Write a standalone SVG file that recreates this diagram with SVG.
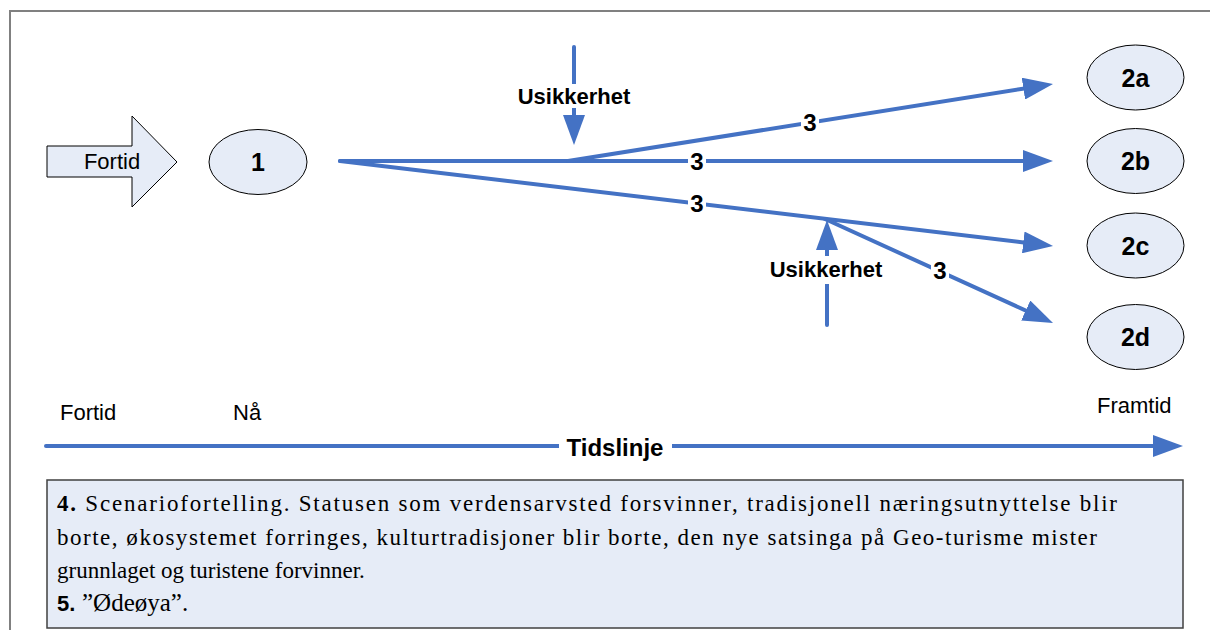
<svg xmlns="http://www.w3.org/2000/svg" width="1210" height="630" viewBox="0 0 1210 630">
  <defs>
    <marker id="ah" viewBox="0 0 30 22" markerWidth="30" markerHeight="22" refX="8" refY="11" orient="auto" markerUnits="userSpaceOnUse">
      <path d="M0,0 L30,11 L0,22 Z" fill="#4472C4"/>
    </marker>
    <style>
      .con { stroke: #4472C4; stroke-width: 4; fill: none; stroke-linecap: round; }
      .node { fill: #E6ECF7; stroke: #000; stroke-width: 1; }
      .lbl { font-family: "Liberation Sans", Arial, sans-serif; font-weight: bold; font-size: 24px; fill: #000; text-anchor: middle; }
      .nlbl { font-family: "Liberation Sans", Arial, sans-serif; font-weight: bold; font-size: 25px; fill: #000; text-anchor: middle; }
      .ulbl { font-family: "Liberation Sans", Arial, sans-serif; font-weight: bold; font-size: 22px; fill: #000; text-anchor: middle; }
      .plain { font-family: "Liberation Sans", Arial, sans-serif; font-size: 22px; fill: #000; }
      .serif { font-family: "Liberation Serif", "Times New Roman", serif; font-size: 23px; fill: #000; }
      .bg { fill: #fff; }
    </style>
  </defs>
  <rect width="1210" height="630" fill="#fff"/>
  <rect x="10" y="11" width="1220" height="640" fill="none" stroke="#808080" stroke-width="2"/>

  <g id="fortid-arrow">
    <path class="node" d="M47,146 L132,146 L132,116 L177,162 L132,207 L132,177 L47,177 Z"/>
    <text class="plain" x="112" y="169" text-anchor="middle">Fortid</text>
  </g>
  <g id="node-1">
    <ellipse class="node" cx="258" cy="162" rx="49" ry="32.5"/>
    <text class="nlbl" x="258" y="171">1</text>
  </g>
  <g id="node-2a">
    <ellipse class="node" cx="1135.5" cy="77.5" rx="48.5" ry="32.5"/>
    <text class="nlbl" x="1135.5" y="86.5">2a</text>
  </g>
  <g id="node-2b">
    <ellipse class="node" cx="1135.5" cy="161" rx="48.5" ry="32.5"/>
    <text class="nlbl" x="1135.5" y="170">2b</text>
  </g>
  <g id="node-2c">
    <ellipse class="node" cx="1135.5" cy="245.5" rx="48.5" ry="32.5"/>
    <text class="nlbl" x="1135.5" y="254.5">2c</text>
  </g>
  <g id="node-2d">
    <ellipse class="node" cx="1135.5" cy="337" rx="48.5" ry="32.5"/>
    <text class="nlbl" x="1135.5" y="346">2d</text>
  </g>

  <g id="connectors">
    <line class="con" x1="340" y1="161" x2="1031" y2="161" marker-end="url(#ah)"/>
    <line class="con" x1="568" y1="161" x2="1031.3" y2="87.4" marker-end="url(#ah)"/>
    <line class="con" x1="340" y1="161" x2="1031.2" y2="243.4" marker-end="url(#ah)"/>
    <line class="con" x1="825" y1="219" x2="1033" y2="313.9" marker-end="url(#ah)"/>
    <line class="con" x1="574" y1="47" x2="574" y2="123" marker-end="url(#ah)"/>
    <line class="con" x1="827" y1="325" x2="827" y2="242" marker-end="url(#ah)"/>
    <line class="con" x1="46" y1="446" x2="1161" y2="446" marker-end="url(#ah)"/>

    <rect class="bg" x="801" y="111" width="18" height="24"/>
    <text class="lbl" x="810" y="131">3</text>
    <rect class="bg" x="688" y="149" width="18" height="24"/>
    <text class="lbl" x="697" y="170">3</text>
    <rect class="bg" x="688" y="192" width="18" height="24"/>
    <text class="lbl" x="697" y="212">3</text>
    <rect class="bg" x="931" y="258" width="18" height="24"/>
    <text class="lbl" x="940" y="279">3</text>

    <rect class="bg" x="514" y="84" width="120" height="24"/>
    <text class="ulbl" x="574" y="104">Usikkerhet</text>
    <rect class="bg" x="767" y="256" width="120" height="28"/>
    <text class="ulbl" x="826" y="277">Usikkerhet</text>

    <rect class="bg" x="559" y="430" width="113" height="32"/>
    <text class="lbl" x="615" y="456" font-size="28">Tidslinje</text>
  </g>

  <g id="timeline-labels">
    <text class="plain" x="60" y="420">Fortid</text>
    <text class="plain" x="233" y="420">Nå</text>
    <text class="plain" x="1097" y="413">Framtid</text>
  </g>

  <g id="scenario-box">
    <rect x="47" y="480" width="1136" height="148" fill="#E6ECF7" stroke="#404040" stroke-width="1.5"/>
    <text class="serif" x="57" y="511" textLength="1060" lengthAdjust="spacing"><tspan font-weight="bold">4.</tspan> Scenariofortelling. Statusen som verdensarvsted forsvinner, tradisjonell næringsutnyttelse blir</text>
    <text class="serif" x="57" y="545" textLength="1040" lengthAdjust="spacing">borte, økosystemet forringes, kulturtradisjoner blir borte, den nye satsinga på Geo-turisme mister</text>
    <text class="serif" x="57" y="578">grunnlaget og turistene forvinner.</text>
    <text class="serif" x="57" y="611"><tspan font-family="'Liberation Sans', Arial, sans-serif" font-weight="bold" font-size="22">5.</tspan><tspan x="82" font-size="25">”Ødeøya”.</tspan></text>
  </g>
</svg>
